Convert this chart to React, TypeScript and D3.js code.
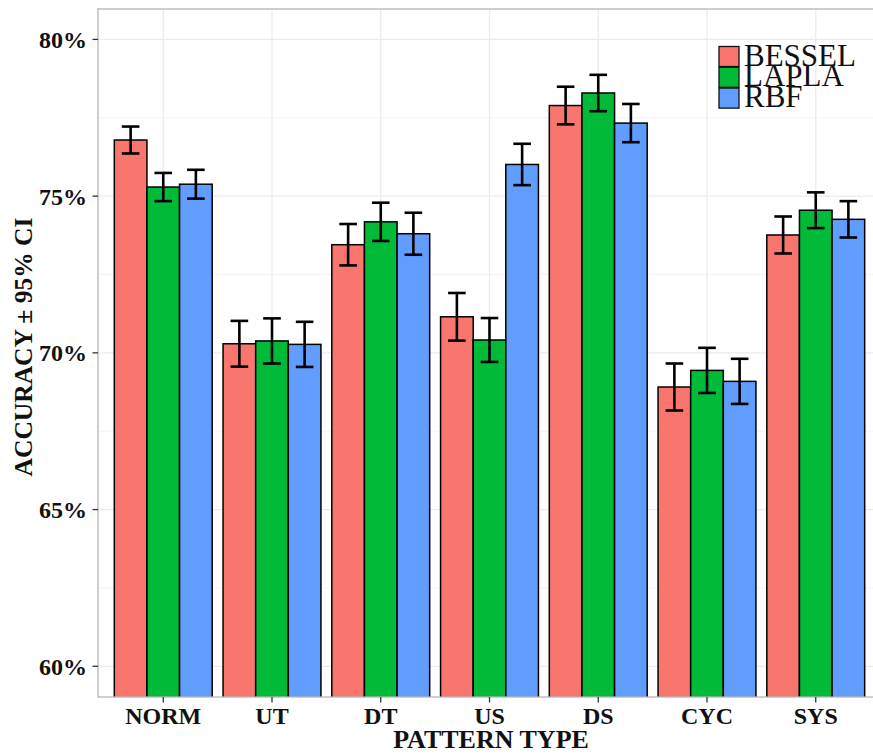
import React from "react";
import * as d3 from "d3";

// Pattern types on the x axis
const categories = ["NORM", "UT", "DT", "US", "DS", "CYC", "SYS"];
// Kernel series
const seriesNames = ["BESSEL", "LAPLA", "RBF"];
const seriesColors = ["#F8766D", "#00BA38", "#619CFF"];

// Mean accuracy (%) per pattern type
const besselMean = [76.79, 70.29, 73.45, 71.15, 77.89, 68.91, 73.76];
const laplaMean = [75.29, 70.38, 74.18, 70.41, 78.29, 69.44, 74.55];
const rbfMean = [75.38, 70.27, 73.80, 76.01, 77.33, 69.09, 74.26];

// Half-width of the 95% confidence interval (%)
const besselCI = [0.43, 0.73, 0.66, 0.76, 0.6, 0.75, 0.59];
const laplaCI = [0.45, 0.72, 0.61, 0.7, 0.58, 0.72, 0.57];
const rbfCI = [0.46, 0.72, 0.67, 0.66, 0.61, 0.72, 0.58];

const yTicks = [60, 65, 70, 75, 80];
const yMinor = [62.5, 67.5, 72.5, 77.5];

const W = 873;
const H = 755;
const FONT = "'Liberation Serif', 'Times New Roman', serif";

export default function App() {
  const panel = { left: 98, right: 881, top: 9, bottom: 697 };

  const x = d3
    .scalePoint<string>()
    .domain(categories)
    .range([panel.left, panel.right])
    .padding(0.6);
  const step = x.step();
  const groupW = step * 0.9;
  const inner = d3
    .scaleBand<string>()
    .domain(seriesNames)
    .range([-groupW / 2, groupW / 2]);

  const y = d3.scaleLinear().domain([59.02, 80.97]).range([panel.bottom, panel.top]);

  const means = [besselMean, laplaMean, rbfMean];
  const cis = [besselCI, laplaCI, rbfCI];
  const capHalf = inner.bandwidth() * 0.27;

  return (
    <div style={{ position: "fixed", left: 0, top: 0 }}>
      <svg width={W} height={H} style={{ display: "block", background: "#fff" }}>
        <defs>
          <clipPath id="panelClip">
            <rect x={panel.left} y={panel.top} width={panel.right - panel.left} height={panel.bottom - panel.top} />
          </clipPath>
        </defs>
        <rect x={panel.left} y={panel.top} width={panel.right - panel.left} height={panel.bottom - panel.top} fill="#fff" />
        <g clipPath="url(#panelClip)">
          {yMinor.map((v) => (
            <line key={"mn" + v} x1={panel.left} x2={panel.right} y1={y(v)} y2={y(v)} stroke="#f0f0f0" strokeWidth={0.8} />
          ))}
          {yTicks.map((v) => (
            <line key={"mj" + v} x1={panel.left} x2={panel.right} y1={y(v)} y2={y(v)} stroke="#ebebeb" strokeWidth={1.3} />
          ))}
          {categories.map((c) => (
            <line key={"vx" + c} x1={x(c)!} x2={x(c)!} y1={panel.top} y2={panel.bottom} stroke="#ebebeb" strokeWidth={1.3} />
          ))}
          {categories.map((c, ci) =>
            seriesNames.map((s, si) => {
              const x0 = x(c)! + inner(s)!;
              const v = means[si][ci];
              return (
                <rect
                  key={c + s}
                  x={x0}
                  y={y(v)}
                  width={inner.bandwidth()}
                  height={panel.bottom + 5 - y(v)}
                  fill={seriesColors[si]}
                  stroke="#000"
                  strokeWidth={1.5}
                />
              );
            })
          )}
          {categories.map((c, ci) =>
            seriesNames.map((s, si) => {
              const cx = x(c)! + inner(s)! + inner.bandwidth() / 2;
              const v = means[si][ci];
              const e = cis[si][ci];
              const yt = y(v + e);
              const yb = y(v - e);
              return (
                <g key={"e" + c + s} stroke="#000" strokeWidth={2.6}>
                  <line x1={cx} x2={cx} y1={yt} y2={yb} />
                  <line x1={cx - capHalf} x2={cx + capHalf} y1={yt} y2={yt} />
                  <line x1={cx - capHalf} x2={cx + capHalf} y1={yb} y2={yb} />
                </g>
              );
            })
          )}
        </g>
        <rect
          x={panel.left}
          y={panel.top}
          width={panel.right - panel.left}
          height={panel.bottom - panel.top}
          fill="none"
          stroke="#b5b5b5"
          strokeWidth={1.3}
        />

        {/* y axis */}
        {yTicks.map((v) => (
          <g key={"yt" + v}>
            <line x1={panel.left - 5.5} x2={panel.left} y1={y(v)} y2={y(v)} stroke="#333" strokeWidth={1.3} />
            <text
              x={panel.left - 11}
              y={y(v)}
              dy="0.35em"
              textAnchor="end"
              fontFamily={FONT}
              fontWeight="bold"
              fontSize={24}
              fill="#111"
            >
              {v + "%"}
            </text>
          </g>
        ))}

        {/* x axis */}
        {categories.map((c) => (
          <g key={"xt" + c}>
            <line x1={x(c)!} x2={x(c)!} y1={panel.bottom} y2={panel.bottom + 5.5} stroke="#333" strokeWidth={1.3} />
            <text
              x={x(c)!}
              y={724}
              textAnchor="middle"
              fontFamily={FONT}
              fontWeight="bold"
              fontSize={24}
              fill="#111"
            >
              {c}
            </text>
          </g>
        ))}

        <text
          x={491}
          y={748}
          textAnchor="middle"
          fontFamily={FONT}
          fontWeight="bold"
          fontSize={26}
          fill="#111"
        >
          PATTERN TYPE
        </text>
        <text
          transform={`translate(32, 347) rotate(-90)`}
          textAnchor="middle"
          fontFamily={FONT}
          fontWeight="bold"
          fontSize={25.5}
          fill="#111"
        >
          ACCURACY ± 95% CI
        </text>

        {/* legend */}
        {seriesNames.map((s, i) => {
          const ky = 46.5 + i * 20.8;
          return (
            <g key={"lg" + s}>
              <rect x={719} y={ky} width={20} height={20} fill={seriesColors[i]} stroke="#111" strokeWidth={1.3} />
              <text x={744} y={ky + 19} fontFamily={FONT} fontSize={31} fill="#111">
                {s}
              </text>
            </g>
          );
        })}
      </svg>
    </div>
  );
}
